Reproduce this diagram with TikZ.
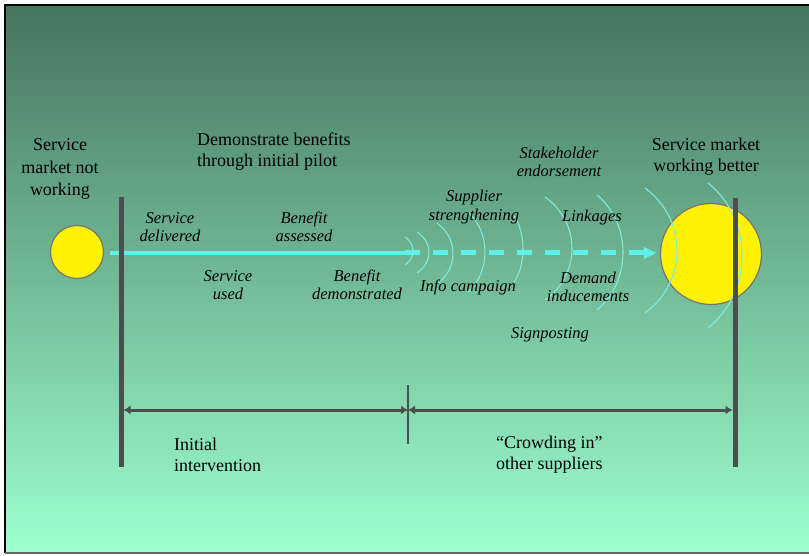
\documentclass[tikz,border=0pt]{standalone}
\usepackage{fontspec}
\setmainfont{Liberation Serif}
\newfontfamily\slidefont{Liberation Serif}
\usetikzlibrary{arrows.meta}
\usetikzlibrary{calc}

\definecolor{bgtop}{RGB}{70,117,94}
\definecolor{bgbot}{RGB}{157,255,206}
\definecolor{bar}{RGB}{74,78,78}
\definecolor{flow}{RGB}{96,240,236}
\definecolor{ripple}{RGB}{128,236,222}

\begin{document}
\begin{tikzpicture}[x=1pt,y=-1pt,inner sep=0pt,>={Latex[length=7pt,width=9pt]},
  plain/.style={font=\slidefont\fontsize{18}{21}\selectfont,align=center},
  act/.style={font=\slidefont\fontsize{16.5}{18.5}\selectfont\itshape,align=center},
  market/.style={circle,draw=black!55,fill=yellow,line width=1.2pt},
  wall/.style={line width=5pt,draw=bar},
  phase/.style={line width=3pt,draw=bar},
  wave/.style={draw=ripple,line width=1.1pt}]
\useasboundingbox (0,0) rectangle (809,556);
% background and frame
\fill[white] (0,0) rectangle (809,556);
\shade[top color=bgtop,bottom color=bgbot] (5,5) rectangle (809,553);
\draw[black,line width=1.5pt] (809,5) -- (5,5) -- (5,553);
\draw[black!60,line width=1.2pt] (5,553) -- (809,553);

% the two markets
\node [market,minimum size=53pt] (M0) at (77,252) {};
\node [market,minimum size=101pt] (M1) at (711,254) {};

% flow from pilot to market
\coordinate (P1) at (405,253);
\draw [flow,line width=3.5pt,shorten <=6pt] (M0.east |- P1) -- (P1);
\draw [flow,line width=5pt,dash pattern=on 15pt off 13pt,shorten >=3pt,
  -{Triangle[length=13pt,width=11pt]}] (P1) -- (M1.west |- P1);

% ripples of crowding in
\foreach \xt/\yt/\xm/\yb in {405/237/413/265, 417/232/429/273, 437/223/453/284,
  468/212/485/292, 514/216/523/282, 545/197/572/300, 597/195/623/310,
  645/188/677/313, 708/183/742/328}
  \draw [wave] (\xt,\yt) .. controls ({\xt+4/3*(\xm-\xt)},{\yt+(\yb-\yt)/4})
    and ({\xt+4/3*(\xm-\xt)},{\yb-(\yb-\yt)/4}) .. (\xt,\yb);

% start and end of the programme
\coordinate (L0) at (121,197);
\coordinate (L1) at (121,467);
\coordinate (R0) at (735,198);
\coordinate (R1) at (735,467);
\draw [wall] (L0) -- (L1);
\draw [wall] (R0) -- (R1);

% phases
\coordinate (D0) at (121,410);
\coordinate (D1) at (408,410);
\coordinate (D2) at (735,410);
\coordinate (T0) at (408,385);
\coordinate (T1) at (408,444);
\draw [bar,line width=1.4pt] (T0) -- (T1);
\draw [phase,<->,shorten <=2.5pt] (D0) -- (D1);
\draw [phase,<->,shorten >=2.5pt] (D1) -- (D2);

% titles
\node [plain,font=\slidefont\fontsize{18}{22.5}\selectfont] (notworking) at (60,169) {Service\\market not\\working};
\node [plain,align=left,anchor=west] (pilot) at (197,152) {Demonstrate benefits\\through initial pilot};
\node [plain] (better) at (706,157) {Service market\\working better};
\node [plain,align=left,anchor=west] (initial) at (174,455) {Initial\\intervention};
\node [plain,align=left,anchor=west] (crowding) at (496,455) {“Crowding in”\\other suppliers};

% steps
\node [act] (delivered) at (170,227) {Service\\delivered};
\node [act] (assessed) at (304,227) {Benefit\\assessed};
\node [act] (used) at (228,285) {Service\\used};
\node [act] (shown) at (357,285) {Benefit\\demonstrated};
\node [act] (endorse) at (559,162) {Stakeholder\\endorsement};
\node [act] (supplier) at (474,207) {Supplier\\strengthening};
\node [act] (linkages) at (592,218) {Linkages};
\node [act] (info) at (468,287) {Info campaign};
\node [act] (demand) at (588,287) {Demand\\inducements};
\node [act] (signpost) at (550,335) {Signposting};
\end{tikzpicture}
\end{document}
